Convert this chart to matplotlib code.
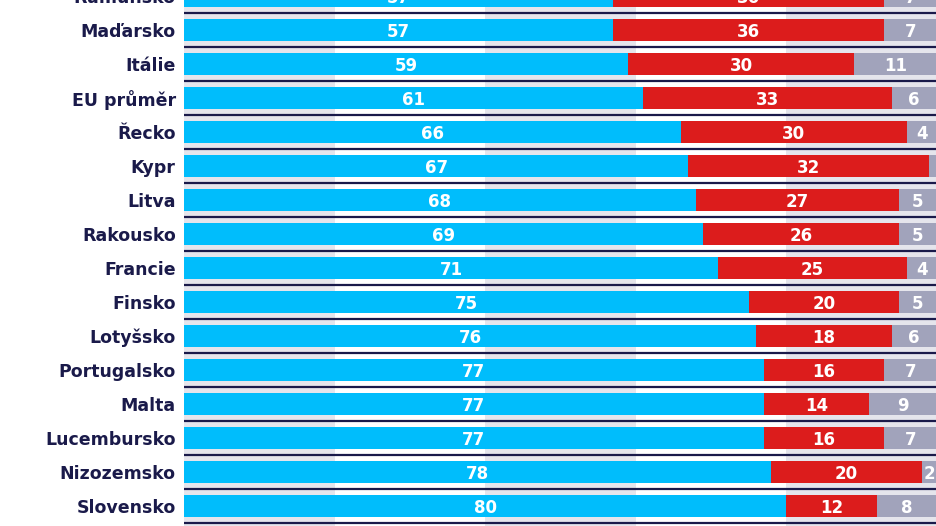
import matplotlib
matplotlib.use("Agg")
import numpy as np
from matplotlib import pyplot as plt

# data (top row is cut off in the reference)
zeme = ["Rumunsko", "Maďarsko", "Itálie", "EU průměr", "Řecko", "Kypr", "Litva",
        "Rakousko", "Francie", "Finsko", "Lotyšsko", "Portugalsko", "Malta",
        "Lucembursko", "Nizozemsko", "Slovensko"]
ano = [57, 57, 59, 61, 66, 67, 68, 69, 71, 75, 76, 77, 77, 77, 78, 80]
ne = [36, 36, 30, 33, 30, 32, 27, 26, 25, 20, 18, 16, 14, 16, 20, 12]
nevi = [7, 7, 11, 6, 4, 1, 5, 5, 4, 5, 6, 7, 9, 7, 2, 8]

MODRA = "#00bdfc"
CERVENA = "#dc1c1c"
SEDA = "#a1a3bb"
PRUH = "#e5e5ec"
NAVY = "#1a1a4a"

plt.rcParams['font.family'] = ['DejaVu Sans']

fig = plt.figure(figsize=(9.36, 5.26), dpi=100)
ax = fig.add_axes([184 / 936, 0, (936 - 184) / 936, 1])

y = np.arange(len(zeme))
vyska = 0.66

# svisle pruhy na pozadi po 20 %
for x0 in (0, 40, 80):
    ax.axvspan(x0, x0 + 20, color=PRUH, zorder=0, lw=0)

# tmave linky mezi radky
for i in range(len(zeme) + 1):
    ax.axhline(i - 0.5, color=NAVY, lw=1.6, zorder=1)

ano = np.array(ano)
ne = np.array(ne)
nevi = np.array(nevi)
ax.barh(y, ano, height=vyska, color=MODRA, zorder=2)
ax.barh(y, ne, left=ano, height=vyska, color=CERVENA, zorder=2)
ax.barh(y, nevi, left=ano + ne, height=vyska, color=SEDA, zorder=2)

for i in range(len(zeme)):
    for start, hodnota in ((0, ano[i]), (ano[i], ne[i]), (ano[i] + ne[i], nevi[i])):
        if hodnota < 2:
            continue
        ax.text(start + hodnota / 2, i, str(hodnota), ha="center", va="center_baseline",
                color="white", fontsize=12, fontweight="bold", zorder=3)
    ax.text(-1.1, i, zeme[i], ha="right", va="center_baseline", color=NAVY,
            fontsize=12.5, fontweight="bold", clip_on=False)

ax.set_xlim(0, 99.9)
ax.set_ylim(1 + 496 / 34, 4 / 34)
ax.axis("off")

fig.savefig("out.png", dpi=100)
